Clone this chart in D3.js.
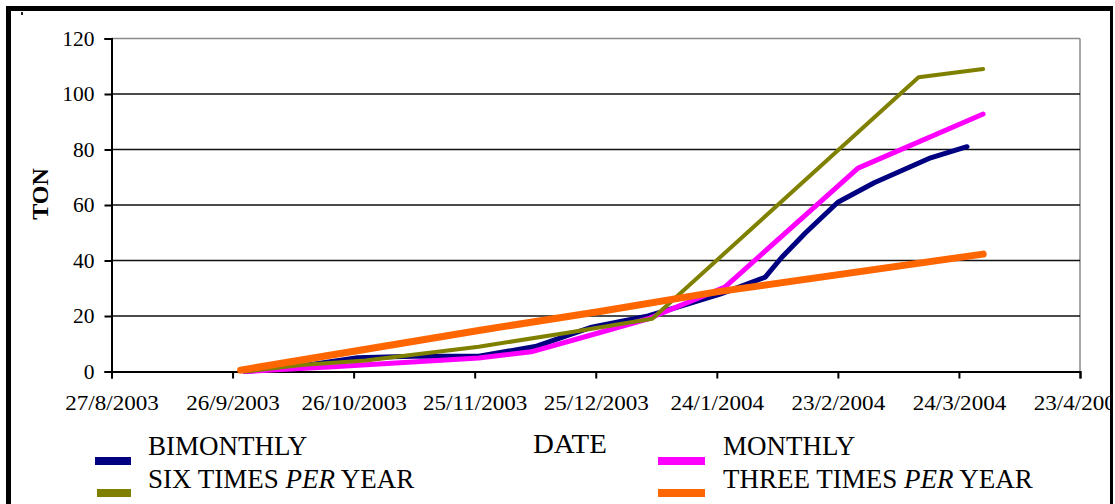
<!DOCTYPE html>
<html>
<head>
<meta charset="utf-8">
<script src="https://cdn.jsdelivr.net/npm/d3@7/dist/d3.min.js"></script>
<style>
  html, body { margin: 0; padding: 0; background: #ffffff; }
  svg { display: block; }
  text { font-family: "Liberation Serif", "Times New Roman", serif; fill: #000; }
</style>
</head>
<body>
<svg id="chart" width="1115" height="504"></svg>
<script>
// Cumulative tonnage per sampling date, one list per collection frequency
const bimonthly = [
  ["29/9/2003", 0], ["13/10/2003", 2], ["27/10/2003", 5], ["10/11/2003", 5.5],
  ["26/11/2003", 5.5], ["10/12/2003", 9], ["24/12/2003", 16], ["7/1/2004", 20],
  ["25/1/2004", 28], ["5/2/2004", 34], ["9/2/2004", 41], ["15/2/2004", 50],
  ["23/2/2004", 61], ["3/3/2004", 68], ["17/3/2004", 77], ["26/3/2004", 81]
];
const monthly = [
  ["29/9/2003", 0], ["21/10/2003", 1.7], ["26/11/2003", 4.9], ["9/12/2003", 7.1],
  ["23/12/2003", 12.8], ["7/1/2004", 19], ["26/1/2004", 30.4], ["28/2/2004", 73.3],
  ["30/3/2004", 92.8]
];
const sixTimesPerYear = [
  ["29/9/2003", 0], ["13/10/2003", 2.3], ["29/10/2003", 4], ["26/11/2003", 8.9],
  ["18/12/2003", 14], ["8/1/2004", 19], ["14/3/2004", 106], ["30/3/2004", 109]
];
const threeTimesPerYear = [
  ["28/9/2003", 0.5], ["26/11/2003", 14.8], ["26/12/2003", 21.6],
  ["24/1/2004", 28.7], ["30/3/2004", 42.3]
];

const seriesNames = ["BIMONTHLY", "MONTHLY", "SIX TIMES PER YEAR", "THREE TIMES PER YEAR"];
const seriesColors = ["#000080", "#ff00ff", "#808000", "#ff6600"];
const seriesWidths = [5, 5, 4, 7];

const xTickLabels = ["27/8/2003", "26/9/2003", "26/10/2003", "25/11/2003", "25/12/2003",
                     "24/1/2004", "23/2/2004", "24/3/2004", "23/4/2004"];
const yTickValues = [0, 20, 40, 60, 80, 100, 120];

const parseDate = d3.utcParse("%d/%m/%Y");
const fmtDate = d3.utcFormat("%-d/%-m/%Y");

const svg = d3.select("#chart");

const plot = { left: 111.5, right: 1080, top: 38.5, bottom: 371.5 };

const xTicks = xTickLabels.map(parseDate);
const x = d3.scaleUtc()
  .domain([xTicks[0], xTicks[xTicks.length - 1]])
  .range([plot.left, plot.right]);
const y = d3.scaleLinear().domain([0, 120]).range([plot.bottom, plot.top]);

// plot area border (top / right) and gridlines
svg.append("line").attr("x1", plot.left).attr("x2", plot.right)
  .attr("y1", plot.top).attr("y2", plot.top).attr("stroke", "#8a8a8a").attr("stroke-width", 1.5);
svg.append("line").attr("x1", plot.right).attr("x2", plot.right)
  .attr("y1", plot.top).attr("y2", plot.bottom).attr("stroke", "#8a8a8a").attr("stroke-width", 1.5);
svg.append("g").selectAll("line")
  .data(yTickValues.filter(v => v > 0 && v < 120))
  .join("line")
  .attr("x1", plot.left).attr("x2", plot.right)
  .attr("y1", d => y(d)).attr("y2", d => y(d))
  .attr("stroke", "#111").attr("stroke-width", 1.6);

// axes
const yAxis = svg.append("g")
  .attr("transform", `translate(${plot.left},0)`)
  .call(d3.axisLeft(y).tickValues(yTickValues).tickSize(7).tickPadding(10));
const xAxis = svg.append("g")
  .attr("transform", `translate(0,${plot.bottom})`)
  .call(d3.axisBottom(x).tickValues(xTicks).tickFormat(fmtDate).tickSize(7).tickPadding(17));
[yAxis, xAxis].forEach(g => {
  g.select(".domain").attr("stroke", "#000").attr("stroke-width", 2);
  g.selectAll(".tick line").attr("stroke", "#000").attr("stroke-width", 2);
  g.selectAll("text").attr("font-family", "Liberation Serif, Times New Roman, serif")
    .attr("fill", "#000");
});
yAxis.selectAll("text").attr("font-size", 21.5);
xAxis.selectAll("text").attr("font-size", 21).attr("transform", "scale(1.1,1)");

// axis titles
svg.append("text")
  .attr("transform", "translate(48,194) rotate(-90)")
  .attr("text-anchor", "middle")
  .attr("font-size", 24).attr("font-weight", "bold")
  .text("TON");
svg.append("text")
  .attr("transform", "translate(533,453) scale(1.07,1)")
  .attr("font-size", 27)
  .text("DATE");

// lines
const line = d3.line()
  .x(d => x(parseDate(d[0])))
  .y(d => y(d[1]));
const allSeries = [bimonthly, monthly, sixTimesPerYear, threeTimesPerYear];
svg.append("g").selectAll("path")
  .data(allSeries)
  .join("path")
  .attr("d", d => line(d))
  .attr("fill", "none")
  .attr("stroke", (d, i) => seriesColors[i])
  .attr("stroke-width", (d, i) => seriesWidths[i])
  .attr("stroke-linejoin", "round")
  .attr("stroke-linecap", "round");

// legend: two columns, swatch below each label
const legendPos = [
  { sx: 95, sy: 457, tx: 148, ty: 455 },
  { sx: 658, sy: 457, tx: 723, ty: 455 },
  { sx: 97, sy: 489, tx: 148, ty: 488 },
  { sx: 658, sy: 489, tx: 723, ty: 488 }
];
const swatchW = [36, 47, 34, 47];
const legend = svg.append("g");
seriesNames.forEach((name, i) => {
  const p = legendPos[i];
  legend.append("rect")
    .attr("x", p.sx).attr("y", p.sy).attr("width", swatchW[i]).attr("height", 8)
    .attr("fill", seriesColors[i]);
  const t = legend.append("text").attr("x", p.tx).attr("y", p.ty).attr("font-size", 27);
  const parts = name.split("PER");
  if (parts.length === 2) {
    t.append("tspan").text(parts[0]);
    t.append("tspan").attr("font-style", "italic").text("PER");
    t.append("tspan").text(parts[1]);
  } else {
    t.text(name);
  }
});

// page frame, drawn last so it trims anything running past the right edge
svg.append("rect").attr("x", 1110).attr("y", 6).attr("width", 5).attr("height", 498).attr("fill", "#fff");
svg.append("rect").attr("x", 6).attr("y", 6).attr("width", 5).attr("height", 498).attr("fill", "#000");
svg.append("rect").attr("x", 6).attr("y", 6).attr("width", 1107).attr("height", 5).attr("fill", "#000");
svg.append("rect").attr("x", 1110).attr("y", 6).attr("width", 3).attr("height", 498).attr("fill", "#000");
svg.append("rect").attr("x", 21).attr("y", 12).attr("width", 2).attr("height", 3).attr("fill", "#222");
</script>
</body>
</html>
